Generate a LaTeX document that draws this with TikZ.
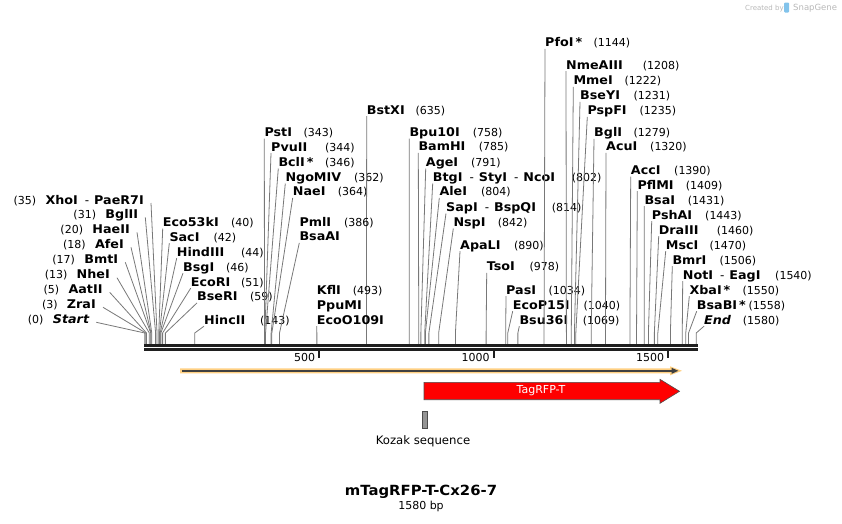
\documentclass[tikz,border=0pt]{standalone}
\usepackage{fontspec}
\setmainfont{DejaVu Sans}[BoldFeatures={FakeStretch=1.06}, BoldItalicFeatures={FakeStretch=1.06}]
\usetikzlibrary{arrows.meta}
\definecolor{sitegray}{RGB}{120,120,120}
\definecolor{featorange}{RGB}{255,208,130}
\definecolor{logoblue}{RGB}{130,195,235}
\newcommand{\dsep}{\hspace{7pt}\textmd{-}\hspace{5pt}}
\newcommand{\bpx}[1]{144.8+0.349*#1}

\begin{document}
\begin{tikzpicture}[x=1pt, y=-1pt,
  enz/.style={font=\fontsize{12}{12}\selectfont\bfseries, inner sep=0pt,
              text depth=2pt, anchor=base west},
  enzl/.style={enz, anchor=base east},
  num/.style={font=\fontsize{11}{11}\selectfont, inner sep=0pt, anchor=base west},
  numl/.style={num, anchor=base east},
  site/.style={draw=sitegray, line width=0.8pt},
  backbone/.style={draw=black!88, line width=2.7pt},
  tick/.style={draw=black!88, line width=1.8pt}
]
\useasboundingbox (0,0) rectangle (842,523);

% Enzyme labels (left side, number first)
\foreach \bp/\rx/\ly/\nm [count=\i] in {
    35/144/200/{XhoI\dsep PaeR7I},
    31/138.3/214.3/BglII,
    20/130/229.3/HaeII,
    18/124/244.3/AfeI,
    17/118.3/259.3/BmtI,
    13/110/274.7/NheI,
    5/102.7/289.3/AatII,
    3/96/304.3/ZraI,
    0/89.3/319.3/{\itshape Start}}{
  \node[enzl] (l\i) at (\rx, \ly+4) {\nm};
  \node[numl] (ln\i) at ([xshift=-9pt]l\i.base west) {(\bp)};
  \coordinate (ls\i) at ({\bpx{\bp}}, 333);
  \coordinate (lb\i) at ({\bpx{\bp}}, 344);
  \draw[site] ([xshift=7pt, yshift=1pt]l\i.base east) -- (ls\i) -- (lb\i);
}

% Enzyme labels (right side, number after)
\foreach \bp/\lx/\ly/\nx/\nm [count=\i] in {
    40/162.7/222.3/231/Eco53kI,
    42/169.3/237/213.3/SacI,
    44/176.7/252/241/HindIII,
    46/183/267/226/BsgI,
    51/190.7/282/241/EcoRI,
    59/197/296.7/250/BseRI,
    143/204/320/260/HincII,
    343/264.3/132.3/303.3/PstI,
    344/271/147/325/PvuII,
    346/278.3/162.3/325/BclI\,*,
    362/285.3/177.3/354/NgoMIV,
    364/292.7/191.7/337.7/NaeI,
    635/366.7/110/415.3/BstXI,
    758/409.3/132.3/472.7/Bpu10I,
    785/418.3/146.7/478.7/BamHI,
    791/425.7/162.3/471/AgeI,
    802/432.7/177.3/571.7/{BtgI\dsep StyI\dsep NcoI},
    804/439.3/191.7/481/AleI,
    814/446/207.3/551.7/{SapI\dsep BspQI},
    842/453.3/222.3/497.7/NspI,
    890/460/245/514/ApaLI,
    978/486.7/266.7/529.3/TsoI,
    1034/506/290/548.3/PasI,
    1040/512.7/305/583.3/EcoP15I,
    1069/519.3/320/582.7/Bsu36I,
    1144/545/42.7/593.3/PfoI\,*,
    1208/566/65/642.7/NmeAIII,
    1222/573.3/80.7/624.3/MmeI,
    1231/580/95.7/633.3/BseYI,
    1235/587.3/110.7/639.3/PspFI,
    1279/594/132.7/633.3/BglI,
    1320/606/146.7/650/AcuI,
    1390/630.7/170.5/674/AccI,
    1409/637.3/185/685.7/PflMI,
    1431/644.3/200/687.7/BsaI,
    1443/651.7/215/705/PshAI,
    1460/658.7/230/716.7/DraIII,
    1470/665.7/245/709.3/MscI,
    1506/672.3/260/719.3/BmrI,
    1540/682.7/275/775/{NotI\dsep EagI},
    1550/689.3/290/742.3/XbaI\,*,
    1558/696.7/305/748.3/BsaBI\,*,
    1580/704/320/742.7/{\itshape End}}{
  \node[enz] (r\i) at (\lx, \ly+4) {\nm};
  \node[num] (rn\i) at (\nx, \ly+4) {(\bp)};
  \coordinate (rs\i) at ({\bpx{\bp}}, 333);
  \coordinate (rb\i) at ({\bpx{\bp}}, 344);
  \draw[site] (r\i.south west) -- (rs\i) -- (rb\i);
}

% Stacked labels sharing one site
\node[enz] (pml)  at (299.3, 226.3) {PmlI};
\node[num] (pmln) at (344, 226.3) {(386)};
\node[enz] (bsaa) at (299.3, 240.7) {BsaAI};
\coordinate (bsaas) at ({\bpx{386}}, 333);
\coordinate (bsaab) at ({\bpx{386}}, 344);
\draw[site] (bsaa.south west) -- (bsaas) -- (bsaab);

\node[enz] (kfl)  at (316.7, 294) {KflI};
\node[num] (kfln) at (352.7, 294) {(493)};
\node[enz] (ppum) at (316.7, 309) {PpuMI};
\node[enz] (ecoo) at (316.7, 324) {EcoO109I};
\coordinate (ecoos) at ({\bpx{493}}, 333);
\coordinate (ecoob) at ({\bpx{493}}, 344);
\draw[site] (ecoo.south west) -- (ecoos) -- (ecoob);

% Sequence backbone and ruler
\draw[backbone] (144,345.3) -- (697.7,345.3);
\draw[backbone] (144,349.3) -- (697.7,349.3);
\foreach \t in {500,1000,1500}{
  \draw[tick] ({\bpx{\t}},349) -- ({\bpx{\t}},357.7);
  \node[num, anchor=east] (t\t) at ({\bpx{\t}-4}, 357.3) {\t};
}

% Orange feature
\fill[featorange] (180,368.3) -- (670,368.3) -- (670,366.3) -- (682,370.8)
  -- (670,375.3) -- (670,373.3) -- (180,373.3) -- cycle;
\draw[draw=black!75, line width=1.7pt, -{Triangle[length=7pt, width=5.5pt]}]
  (182,370.8) -- (678.5,370.8);

% TagRFP-T feature
\draw[fill=red, draw=black!70, line width=0.6pt]
  (424,382.3) -- (660,382.3) -- (660,379.3) -- (679.5,391.3) -- (660,403.3)
  -- (660,399.7) -- (424,399.7) -- cycle;
\node[font=\fontsize{11}{11}\selectfont, text=white, inner sep=0pt] (tagrfp)
  at (541,391) {TagRFP-T};

% Kozak sequence
\draw[fill=black!42, draw=black!70, line width=0.6pt] (422,411) rectangle (427,428);
\node[font=\fontsize{11.7}{11.7}\selectfont, inner sep=0pt] (kozak) at (423,441) {Kozak sequence};

% Title
\node[font=\fontsize{14}{14}\selectfont\bfseries, inner sep=0pt] (title) at (421,492.3) {mTagRFP-T-Cx26-7};
\node[font=\fontsize{11}{11}\selectfont, inner sep=0pt] (size) at (421,506.7) {1580 bp};

% Credit
\node[font=\fontsize{7}{7}\selectfont, text=black!28, inner sep=0pt, anchor=base west]
  (cby) at (745,10) {Created by};
\fill[logoblue, rounded corners=1pt] (784,2.5) rectangle (789,12.5);
\node[font=\fontsize{8.5}{8.5}\selectfont, text=black!28, inner sep=0pt, anchor=base west]
  (sg) at (793,10.5) {SnapGene};

\end{tikzpicture}
\end{document}
